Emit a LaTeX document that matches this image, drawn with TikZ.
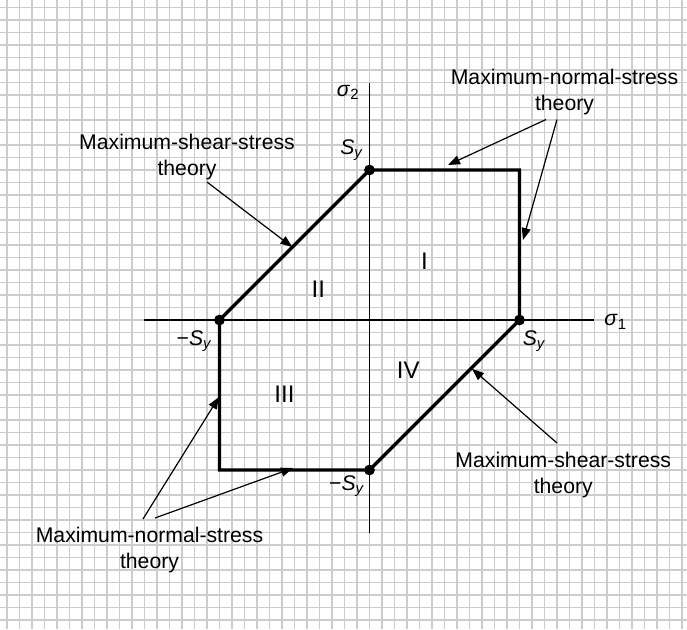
\documentclass[tikz,border=0pt]{standalone}
\usepackage{fontspec}
\setmainfont{Liberation Sans}
\usetikzlibrary{arrows.meta}
\tikzset{
  lbl/.style={font=\fontsize{10.6}{13}\selectfont,inner sep=0pt},
  region/.style={font=\fontsize{12}{14}\selectfont,inner sep=0pt},
  theory/.style={lbl,align=center},
  bound/.style={line width=1.6pt},
  axis/.style={line width=.6pt},
  lead/.style={line width=.6pt,-{Triangle[length=6pt,width=4.5pt]}},
}
\begin{document}
\begin{tikzpicture}[x=6.25pt,y=6.25pt]
\useasboundingbox (-29.56,-24.72) rectangle (25.4,25.6);
\draw[black!20,line width=.75pt,xstep=6.25pt,ystep=6.25pt] (-29.56,-24.72) grid (25.4,25.6);
% axes
\coordinate (xl) at (-18,0); \coordinate (xr) at (18,0);
\coordinate (yb) at (0,-17); \coordinate (yt) at (0,19);
\draw[axis] (xl) -- (xr); \draw[axis] (yb) -- (yt);
\node[lbl] (s1) at (19.7,-0.15) {\textit{σ}\textsubscript{1}};
\node[lbl] (s2) at (-1.7,18.2) {\textit{σ}\textsubscript{2}};
% yield locus
\coordinate (E) at (12,0); \coordinate (N) at (0,12); \coordinate (W) at (-12,0); \coordinate (S) at (0,-12);
\coordinate (NE) at (12,12); \coordinate (SW) at (-12,-12);
\draw[bound] (W) -- (N) -- (NE) -- (E) -- (S) -- (SW) -- cycle;
\foreach \p in {E,N,W,S} \fill (\p) circle (2.7pt);
\node[lbl] (syN) at (-1.4,13.6) {\textit{S}\textsubscript{\textit{y}}};
\node[lbl] (syE) at (13.2,-1.7) {\textit{S}\textsubscript{\textit{y}}};
\node[lbl] (syW) at (-14,-1.7) {−\textit{S}\textsubscript{\textit{y}}};
\node[lbl] (syS) at (-1.8,-13.3) {−\textit{S}\textsubscript{\textit{y}}};
\node[region] (rI) at (4.4,4.7) {I};
\node[region] (rII) at (-4.1,2.5) {II};
\node[region] (rIII) at (-6.8,-5.9) {III};
\node[region] (rIV) at (3.1,-4) {IV};
% leaders
\node[theory] (mssT) at (-14.6,13.06) {Maximum-shear-stress\\theory};
\node[theory] (mnsT) at (15.6,18.26) {Maximum-normal-stress\\theory};
\node[theory] (mssB) at (15.5,-12.4) {Maximum-shear-stress\\theory};
\node[theory] (mnsB) at (-17.6,-18.4) {Maximum-normal-stress\\theory};
\coordinate (a1) at (-13,11.04); \coordinate (t1) at (-6.17,5.83);
\coordinate (a2) at (14.12,16.04); \coordinate (t2) at (6.28,12.4);
\coordinate (a3) at (15,16.04); \coordinate (t3) at (12.28,6.4);
\coordinate (a4) at (15,-9.84); \coordinate (t4) at (8.2,-3.9);
\coordinate (a5) at (-18.12,-15.92); \coordinate (t5) at (-12.04,-6.16);
\coordinate (a6) at (-17.16,-15.84); \coordinate (t6) at (-6.12,-11.84);
\draw[lead] (a1) -- (t1);
\draw[lead] (a2) -- (t2); \draw[lead] (a3) -- (t3);
\draw[lead] (a4) -- (t4);
\draw[lead] (a5) -- (t5); \draw[lead] (a6) -- (t6);
\end{tikzpicture}
\end{document}
